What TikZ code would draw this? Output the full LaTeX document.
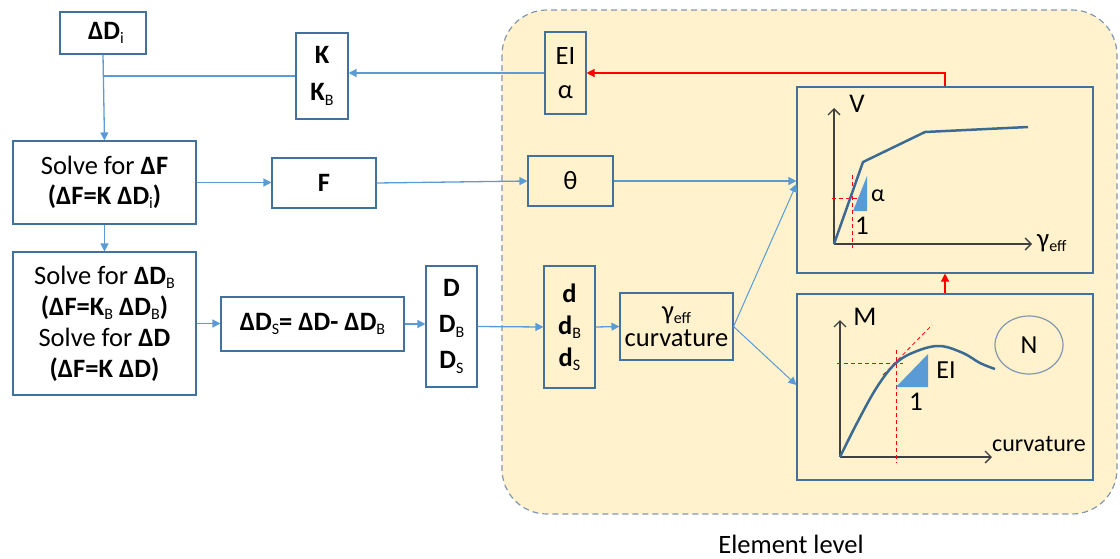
\documentclass[tikz,border=0pt]{standalone}
\usepackage{fontspec}
\setmainfont{Carlito}
\usetikzlibrary{arrows.meta,shapes.geometric}
\definecolor{boxc}{HTML}{41719C}
\definecolor{lineb}{HTML}{5B9BD5}
\definecolor{regfill}{HTML}{FFF2CC}
\definecolor{regdraw}{HTML}{8497B0}
\definecolor{curvec}{HTML}{3B6A92}
\definecolor{axisc}{HTML}{404040}
\newcommand\sbx[1]{\raisebox{-0.35ex}{\fontsize{16}{16}\selectfont\mdseries #1}}
\begin{document}
\begin{tikzpicture}[x=1pt,y=-1pt,
  font=\fontsize{26.5}{30}\selectfont,
  box/.style={draw=boxc, line width=1.1pt, inner sep=0pt, align=center, fill=white},
  ebox/.style={draw=boxc, line width=1.1pt, inner sep=0pt, align=center},
  conn/.style={draw=lineb, line width=1.3pt, -{Triangle[length=8,width=8]}},
  link/.style={draw=lineb, line width=1.3pt},
  redarr/.style={draw=red, line width=1.3pt, -{Triangle[length=8,width=8]}},
  axisline/.style={draw=axisc, line width=1.3pt, -{Straight Barb[length=6,width=12]}},
  curveline/.style={draw=curvec, line width=2.5pt},
  guide/.style={draw=red, line width=0.8pt, dash pattern=on 4pt off 3pt},
  lbl/.style={font=\fontsize{24}{26}\selectfont, inner sep=0pt}]
\useasboundingbox (0,0) rectangle (1120,558);
% element region
\draw[fill=regfill, draw=regdraw, line width=1.2pt, dash pattern=on 6pt off 4pt, rounded corners=45pt] (502,10) rectangle (1117,514);
\node[lbl, font=\fontsize{26.5}{30}\selectfont] (elem) at (791,544) {Element level};
% left boxes
\node[box, minimum width=86, minimum height=42] (Di) at (103,33) {\hspace{6pt}\textbf{ΔD}\sbx{i}};
\node[box, minimum width=52, minimum height=86, font=\fontsize{26.5}{37}\selectfont] (K) at (322,76) {\textbf{K}\\\textbf{K}\sbx{B}};
\node[box, minimum width=183, minimum height=83] (SF) at (104.5,182.5) {Solve for \textbf{ΔF}\\\textbf{(ΔF=K ΔD}\sbx{i}\textbf{)}};
\node[box, minimum width=104, minimum height=50] (F) at (324,183) {\textbf{F}};
\node[box, minimum width=183, minimum height=143, font=\fontsize{26.5}{31}\selectfont] (SD) at (104.5,323.5) {Solve for \textbf{ΔD}\sbx{B}\\\textbf{(ΔF=K}\sbx{B}\textbf{ ΔD}\sbx{B}\textbf{)}\\Solve for \textbf{ΔD}\\\textbf{(ΔF=K ΔD)}};
\node[box, minimum width=183, minimum height=54] (DS) at (312.5,324) {\textbf{ΔD}\sbx{S}\textbf{= ΔD- ΔD}\sbx{B}};
\node[box, minimum width=51, minimum height=121, font=\fontsize{26.5}{36}\selectfont] (D) at (451.5,326.5) {\textbf{D}\\\textbf{D}\sbx{B}\\\textbf{D}\sbx{S}};
% element boxes
\node[ebox, minimum width=41, minimum height=82, font=\fontsize{26.5}{34}\selectfont] (EI) at (565.5,73) {EI\\α};
\node[ebox, minimum width=85, minimum height=50] (th) at (570.5,181) {θ};
\node[ebox, minimum width=51, minimum height=122, font=\fontsize{26.5}{32}\selectfont] (d) at (569.5,327) {\textbf{d}\\\textbf{d}\sbx{B}\\\textbf{d}\sbx{S}};
\node[ebox, minimum width=113, minimum height=67, font=\fontsize{26.5}{27}\selectfont] (g) at (676.5,326.5) {γ\sbx{eff}\\curvature};
\node[ebox, minimum width=296, minimum height=186] (V) at (945,180) {};
\node[ebox, minimum width=296, minimum height=186] (M) at (945,387) {};
% V chart
\coordinate (vo) at (834,244);
\draw[axisline] (vo) -- (834,108);
\draw[axisline] (vo) -- (1032,244);
\node[lbl, font=\fontsize{27}{28}\selectfont] (Vl) at (857,104) {V};
\node[lbl, anchor=west, font=\fontsize{27}{28}\selectfont] (Vx) at (1037,243) {γ\sbx{eff}};
\draw[guide] (852,175) -- (852,248);
\draw[guide] (832,198) -- (858,198);
\fill[lineb] (853,211) -- (867,211) -- (867,176) -- cycle;
\draw[curveline, line join=round] (vo) -- (863,162) -- (925,132) -- (1028,127);
\node[lbl] (Va) at (878,196) {α};
\node[lbl, font=\fontsize{27}{28}\selectfont] (V1) at (862,226) {1};
% M chart
\coordinate (mo) at (840,457);
\draw[axisline] (mo) -- (840,320);
\draw[axisline] (mo) -- (992,457);
\node[lbl, font=\fontsize{27}{28}\selectfont] (Ml) at (865,317) {M};
\node[lbl] (Mx) at (1039,444) {curvature};
\draw[guide] (896,350) -- (896,463);
\draw[guide] (837,363) -- (903,363);
\draw[guide] (883,375) -- (932,325);
\fill[lineb] (896,387) -- (928,387) -- (928,354) -- cycle;
\draw[curveline] plot[smooth, tension=0.6] coordinates {(840,457) (857,423) (877,387) (896,363) (917,351) (940,346) (963,353) (980,363) (995,369)};
\node[lbl, font=\fontsize{26}{28}\selectfont] (Me) at (946,370) {EI};
\node[lbl, font=\fontsize{27}{28}\selectfont] (M1) at (916,402) {1};
\node[ellipse, draw=regdraw, line width=1.2pt, minimum width=68, minimum height=58, inner sep=0pt, font=\fontsize{26}{28}\selectfont] (N) at (1029,345) {N};
% connectors
\draw[conn] (Di.south) -- (SF.north);
\draw[link] (K.west) -- (K.west -| Di.south);
\draw[conn] (EI.west) -- (EI.west -| K.east);
\draw[redarr] (V.north) |- (EI.east);
\draw[redarr] (M.north) -- (V.south);
\draw[conn] (SF.east) -- (SF.east -| F.west);
\draw[conn] (F.east) -- (th.west);
\draw[conn] (th.east) -- (th.east -| V.west);
\draw[conn] (SF.south) -- (SD.north);
\draw[conn] (SD.east) -- (SD.east -| DS.west);
\draw[conn] (DS.east) -- (DS.east -| D.west);
\draw[conn] (D.east) -- (d.west);
\draw[conn] (d.east) -- (g.west);
\draw[conn, line width=1pt] (g.east) -- ([yshift=-4pt]V.west);
\draw[conn, line width=1pt] (g.east) -- ([yshift=2pt]M.west);
\end{tikzpicture}
\end{document}
